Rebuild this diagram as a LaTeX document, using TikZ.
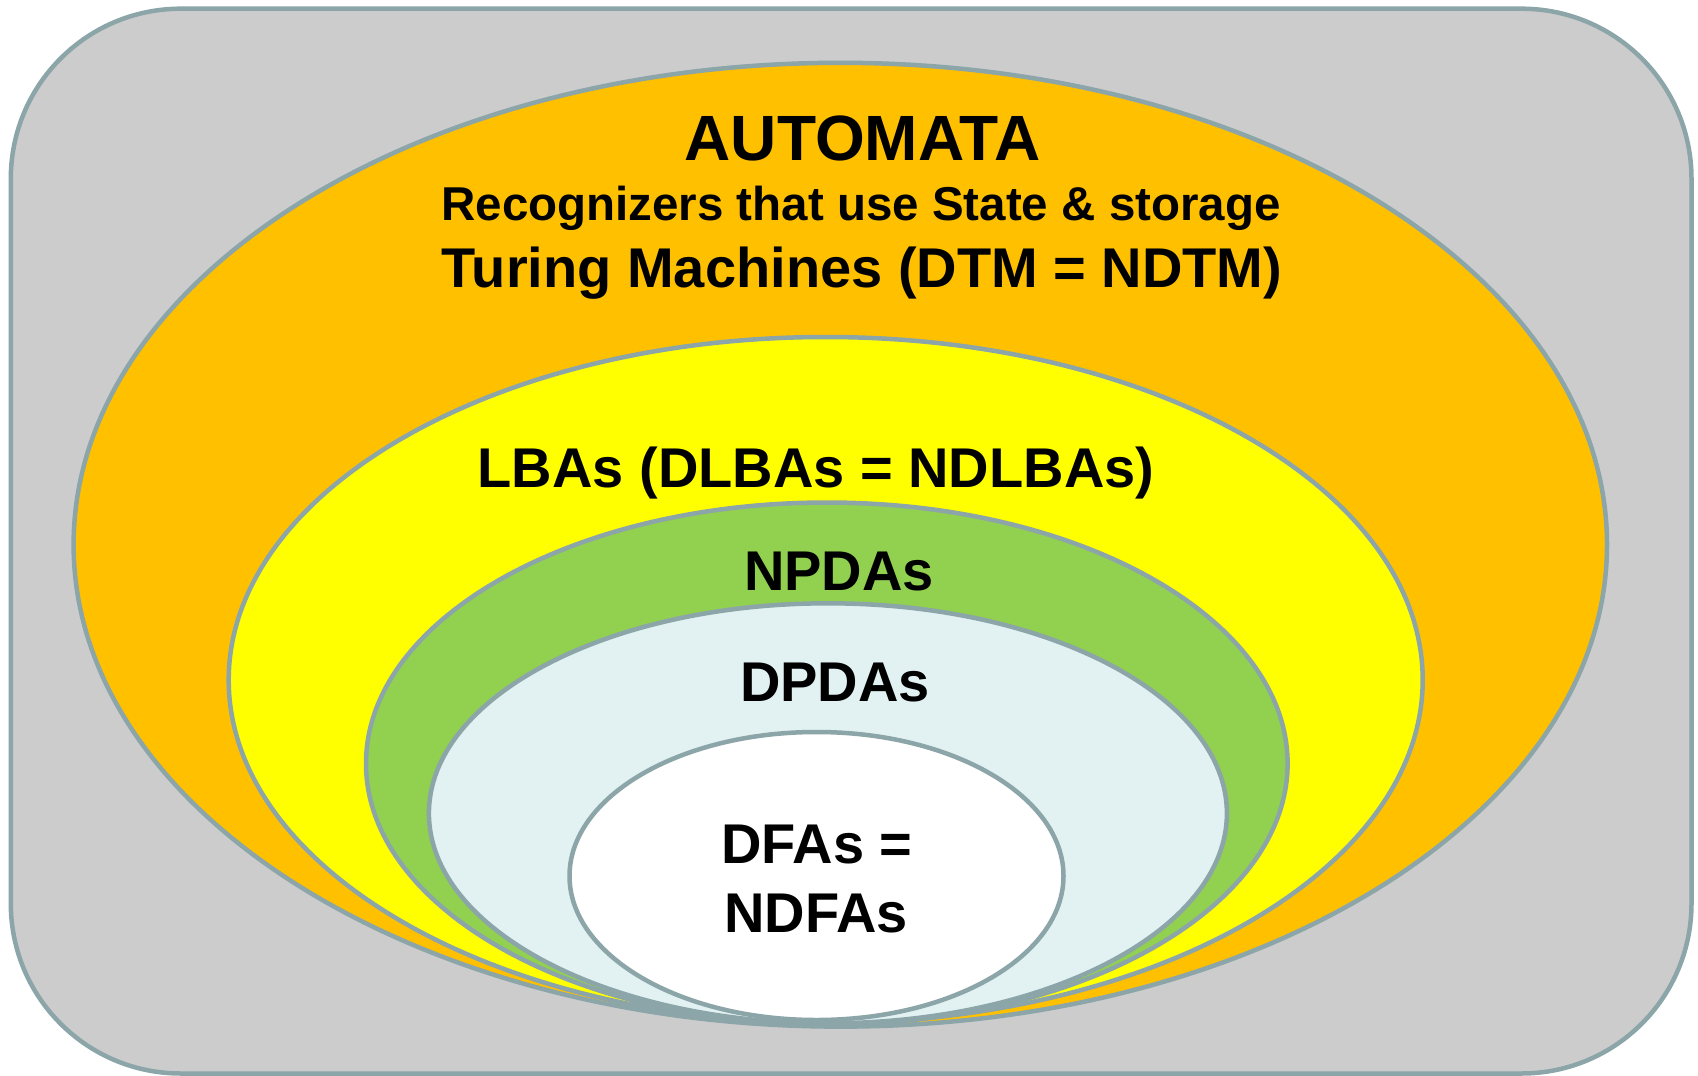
\documentclass[tikz,border=0pt]{standalone}
\usepackage{fontspec}
\setmainfont{Liberation Sans}
\definecolor{edgec}{HTML}{8BA5A8}
\definecolor{grayfill}{HTML}{CCCCCC}
\definecolor{orangefill}{HTML}{FFC000}
\definecolor{yellowfill}{HTML}{FFFF00}
\definecolor{greenfill}{HTML}{92D050}
\definecolor{bluefill}{HTML}{E2F2F3}
\tikzset{
  setshape/.style={draw=edgec, line width=4.5pt},
  lbl/.style={anchor=base, inner sep=0pt, text=black, font=\bfseries\fontsize{56}{60}\selectfont},
}
\begin{document}
\begin{tikzpicture}[x=1pt,y=-1pt]
\useasboundingbox (0,0) rectangle (1698,1076);
\draw[setshape, fill=grayfill, rounded corners=170pt] (10.8,8.7) rectangle (1691.5,1073.5);
\draw[setshape, fill=orangefill] (840.3,544.7) ellipse [x radius=766.7pt, y radius=481.9pt];
\draw[setshape, fill=yellowfill] (825.7,680) ellipse [x radius=597pt, y radius=343pt];
\draw[setshape, fill=greenfill] (826.8,763.5) ellipse [x radius=460.8pt, y radius=261pt];
\draw[setshape, fill=bluefill] (827.9,813.3) ellipse [x radius=399pt, y radius=210pt];
\draw[setshape, fill=white] (816.5,876) ellipse [x radius=247pt, y radius=144pt];

\node[lbl, font=\bfseries\fontsize{64}{68}\selectfont] (automata) at (862.5,160) {AUTOMATA};
\node[lbl, font=\bfseries\fontsize{47.5}{52}\selectfont] (recog) at (861,220) {Recognizers that use State \& storage};
\node[lbl] (turing) at (862,287) {Turing Machines (DTM = NDTM)};
\node[lbl] (lba) at (816,487) {LBAs (DLBAs = NDLBAs)};
\node[lbl] (npda) at (839,590) {NPDAs};
\node[lbl] (dpda) at (835,701) {DPDAs};
\node[lbl] (dfa1) at (817,863) {DFAs =};
\node[lbl] (dfa2) at (816,932) {NDFAs};
\end{tikzpicture}
\end{document}
